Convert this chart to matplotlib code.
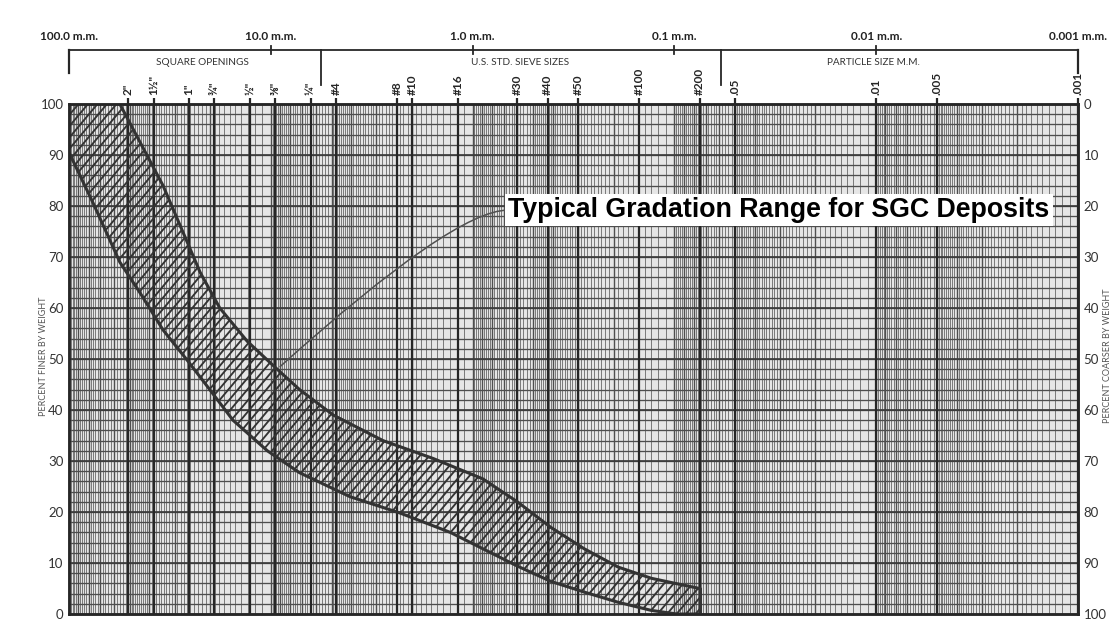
import matplotlib

matplotlib.use("Agg")
import matplotlib.pyplot as plt
import numpy as np
from matplotlib.collections import LineCollection
from matplotlib.ticker import NullLocator

plt.rcParams["font.family"] = ["Lato", "DejaVu Sans"]

# Sieve openings printed along the top of the sheet (mm).
SIEVE_MM = [50.8, 38.1, 25.4, 19.05, 12.7, 9.525, 6.35, 4.75, 2.36, 2.0, 1.18,
            0.6, 0.425, 0.3, 0.15, 0.075, 0.05, 0.01, 0.005, 0.001]
SIEVE_LABELS = ['2"', '1½"', '1"', '¾"', '½"', '⅜"', '¼"', "#4", "#8", "#10",
                "#16", "#30", "#40", "#50", "#100", "#200", ".05", ".01",
                ".005", ".001"]
DECADE_MM = [100, 10, 1, 0.1, 0.01, 0.001]
DECADE_LABELS = ["100.0 m.m.", "10.0 m.m.", "1.0 m.m.", "0.1 m.m.",
                 "0.01 m.m.", "0.001 m.m."]
GROUP_DIVIDERS_MM = [5.64, 0.0587]
GROUP_LABELS = ["SQUARE OPENINGS", "U.S. STD. SIEVE SIZES", "PARTICLE SIZE M.M."]
GROUP_LABEL_MM = [21.7, 0.58, 0.0103]

# Gradation envelope: finer (upper) and coarser (lower) limits.
UPPER_MM = [100, 56, 34.2, 26.0, 22.4, 17.9, 13.1, 9.3, 7.2, 4.9, 2.78, 1.57,
            0.89, 0.60, 0.41, 0.28, 0.19, 0.13, 0.091, 0.075]
UPPER_PCT = [100, 100, 84, 73, 67, 60, 53.5, 48, 44, 39, 34, 30.5, 26.5, 22,
             17, 12.8, 9.2, 7.0, 5.7, 5.0]
LOWER_MM = [100, 76, 56, 44.5, 34.2, 26.0, 20.7, 15.4, 10.4, 7.2, 4.05, 2.29,
            1.29, 0.89, 0.60, 0.41, 0.28, 0.19, 0.13, 0.097, 0.075]
LOWER_PCT = [90.5, 80.6, 69, 63, 55.7, 49.8, 44.7, 38, 32, 27.7, 23, 19.8, 16,
             12.8, 9.4, 6.4, 4.3, 2.3, 0.7, 0, 0]

NOTE = "Typical Gradation Range for SGC Deposits"
NOTE_XY = (9.0, 48.5)
NOTE_TEXT_XY = (0.667, 79.2)

GRID = "#4e4e4e"
INK = "#262626"
AX_W, AX_H = 1009, 510  # axes size in pixels

fig = plt.figure(figsize=(11.16, 6.4), dpi=100)
ax = fig.add_axes([69 / 1116, 1 - 614 / 640, AX_W / 1116, AX_H / 640])
ax.set_xscale("log")
ax.set_xlim(100, 0.001)
ax.set_ylim(0, 100)
ax.set_facecolor("#e6e6e6")
ax.xaxis.set_major_locator(NullLocator())
ax.xaxis.set_minor_locator(NullLocator())

# log-paper ruling: fine steps below 5, coarser above, per decade
subs = np.concatenate([np.arange(1.0, 5.0, 0.1), np.arange(5.0, 10.0, 0.2)])
fine = [m * 10.0 ** k for k in range(-3, 2) for m in subs]
whole = [m * 10.0 ** k for k in range(-3, 2) for m in range(1, 10)]
ax.vlines(fine, 0, 100, colors="#5c5c5c", lw=0.55, zorder=1)
ax.vlines(whole, 0, 100, colors=GRID, lw=1.0, zorder=1)
ax.hlines(np.arange(2, 100, 2), 100, 0.001, colors=GRID, lw=0.95, zorder=1)
ax.hlines(np.arange(10, 100, 10), 100, 0.001, colors="#3a3a3a", lw=1.2, zorder=1)

xt = ax.get_xaxis_transform()
ax.vlines(SIEVE_MM, 0, 1.012, transform=xt, colors=INK, lw=1.6, zorder=2,
          clip_on=False)
for mm, lab in zip(SIEVE_MM, SIEVE_LABELS):
    ax.text(mm, 1.018, lab, transform=xt, rotation=90, ha="center", va="bottom",
            fontsize=8.5, fontweight="bold", color=INK)

# header bracket with the decade scale and the three groups
ax.plot([100, 0.001], [1.106, 1.106], transform=xt, color=INK, lw=1.3,
        clip_on=False)
for mm in (100, 0.001):
    ax.plot([mm, mm], [1.106, 1.061], transform=xt, color=INK, lw=1.6,
            clip_on=False)
for mm in GROUP_DIVIDERS_MM:
    ax.plot([mm, mm], [1.106, 1.037], transform=xt, color=INK, lw=1.3,
            clip_on=False)
for mm in DECADE_MM[1:-1]:
    ax.plot([mm, mm], [1.114, 1.098], transform=xt, color=INK, lw=1.3,
            clip_on=False)
for mm, lab in zip(DECADE_MM, DECADE_LABELS):
    ax.text(mm, 1.125, lab, transform=xt, ha="center", va="baseline",
            fontsize=8.5, fontweight="bold", color="#222222")
for mm, lab in zip(GROUP_LABEL_MM, GROUP_LABELS):
    ax.text(mm, 1.076, lab, transform=xt, ha="center", va="baseline",
            fontsize=7.2, color="#333333")

# envelope: hatched band with heavy limit lines
band_x = UPPER_MM + LOWER_MM[::-1]
band_y = UPPER_PCT + LOWER_PCT[::-1]
band = ax.fill(band_x, band_y, facecolor="none", lw=0, zorder=3)[0]

slope_dx = AX_H / np.tan(np.radians(50))
starts = np.arange(-slope_dx, AX_W, 9.5)
hatch = [[(s / AX_W, 0.0), ((s + slope_dx) / AX_W, 1.0)] for s in starts]
lc = LineCollection(hatch, colors="#333333", lw=1.35, transform=ax.transAxes,
                    zorder=3)
ax.add_collection(lc)
lc.set_clip_path(band)

ax.plot(UPPER_MM[1:], UPPER_PCT[1:], color="#333333", lw=2.2, zorder=4)
ax.plot(LOWER_MM, LOWER_PCT, color="#333333", lw=2.2, zorder=4)
ax.plot([UPPER_MM[-1], LOWER_MM[-1]], [UPPER_PCT[-1], LOWER_PCT[-1]],
        color="#333333", lw=2.2, zorder=4)

# leader from the note down to the envelope
ax.annotate("", xy=NOTE_XY, xytext=NOTE_TEXT_XY, zorder=5,
            arrowprops=dict(arrowstyle="-", color="#505050", lw=1.1,
                            shrinkA=0, shrinkB=0,
                            connectionstyle="angle3,angleA=0,angleB=42"))
ax.text(NOTE_TEXT_XY[0], NOTE_TEXT_XY[1], NOTE, ha="left", va="center",
        fontsize=19.3, fontweight="bold", family="Liberation Sans",
        color="black", zorder=6,
        bbox=dict(boxstyle="square,pad=0.12", fc="white", ec="none"))

ax.set_yticks(range(0, 101, 10))
ax.tick_params(axis="y", length=0, pad=4, labelsize=9.5, labelcolor="#333333")
ax2 = ax.twinx()
ax2.set_ylim(100, 0)
ax2.set_yticks(range(0, 101, 10))
ax2.tick_params(axis="y", length=0, pad=4, labelsize=9.5, labelcolor="#333333")

for a in (ax, ax2):
    for sp in a.spines.values():
        sp.set_color(INK)
        sp.set_linewidth(1.8)

fig.text(43 / 1116, 1 - 356 / 640, "PERCENT FINER BY WEIGHT", rotation=90,
         ha="center", va="center", fontsize=6.5, color="#555555")
fig.text(1108 / 1116, 1 - 356 / 640, "PERCENT COARSER BY WEIGHT", rotation=90,
         ha="center", va="center", fontsize=6.5, color="#555555")

fig.savefig("out.png", dpi=100, facecolor="white")
